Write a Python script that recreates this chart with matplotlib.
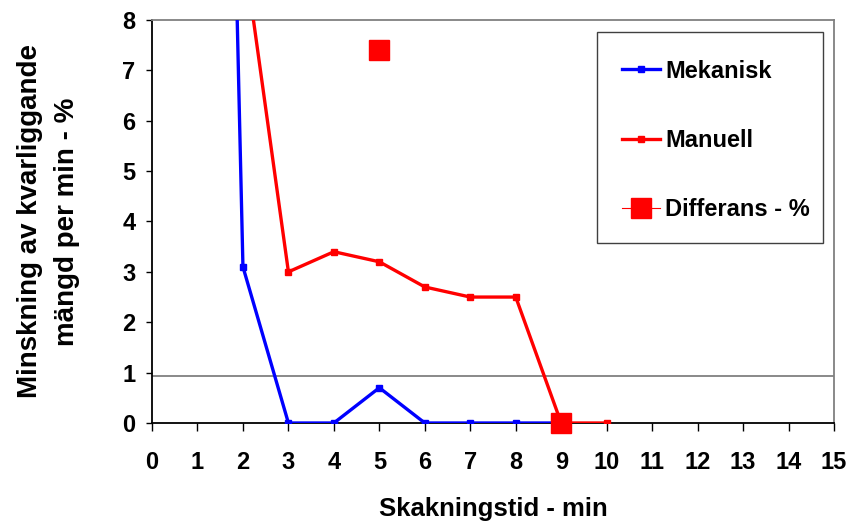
import numpy as np
import matplotlib
matplotlib.use("Agg")
import matplotlib.pyplot as plt
from matplotlib.patches import Rectangle

plt.rcParams['font.family'] = ['Liberation Sans', 'DejaVu Sans']
plt.rcParams['font.weight'] = 'bold'

x_mek = [1, 2, 3, 4, 5, 6, 7, 8, 9]
y_mek = [42.0, 3.1, 0.0, 0.0, 0.7, 0.0, 0.0, 0.0, 0.0]
x_man = [2, 3, 4, 5, 6, 7, 8, 9, 10]
y_man = [9.5, 3.0, 3.4, 3.2, 2.7, 2.5, 2.5, 0.0, 0.0]
x_diff = [5, 6, 7, 8, 9]
y_diff = [7.4, np.nan, np.nan, np.nan, 0.0]
ref_level = 0.93

xticks = list(range(0, 16))
yticks = list(range(0, 9))

fig = plt.figure(figsize=(8.54, 5.23), dpi=100)
ax = fig.add_axes([0.178, 0.1912, 0.7986, 0.7706])

ax.axhline(ref_level, color='#808080', lw=1.3, zorder=1)

ax.plot(x_mek, y_mek, color='#0000FF', lw=2.4, marker='s', ms=5, label='Mekanisk', zorder=3)
ax.plot(x_man, y_man, color='#FF0000', lw=2.4, marker='s', ms=5, label='Manuell', zorder=3)
ax.plot(x_diff, y_diff, color='#FF0000', lw=0.8, marker='s', ms=14, label='Differans - %', zorder=4, clip_on=False)

ax.set_xlim(0, 15)
ax.set_ylim(0, 8)
ax.set_xticks(xticks)
ax.set_yticks(yticks)
ax.tick_params(axis='both', labelsize=17, direction='out', width=1, colors='black')
ax.tick_params(axis='x', length=6, pad=14)
ax.tick_params(axis='y', length=4, pad=8)

for s in ['left', 'bottom']:
    ax.spines[s].set_color('black')
    ax.spines[s].set_linewidth(1.3)
for s in ['top', 'right']:
    ax.spines[s].set_color('#808080')
    ax.spines[s].set_linewidth(1.3)

ax.set_xlabel('Skakningstid - min', fontsize=18.5, fontweight='bold', labelpad=17)
ax.set_ylabel('Minskning av kvarliggande\nmängd per min - %', fontsize=20, fontweight='bold',
              labelpad=30, linespacing=1.55)

# legend frame drawn separately
ax.add_patch(Rectangle((0.6525, 0.4467), 0.9839 - 0.6525, 0.9702 - 0.4467,
                       transform=ax.transAxes, facecolor='white', edgecolor='#404040',
                       lw=1.0, zorder=5, clip_on=False))
leg = ax.legend(loc='upper left', bbox_to_anchor=(0.6525, 0.9628), fontsize=17,
                frameon=False, labelspacing=1.95,
                borderpad=1.05, handlelength=1.6, handletextpad=0.25, borderaxespad=0)
leg.set_zorder(6)

fig.savefig('out.png', dpi=100)
